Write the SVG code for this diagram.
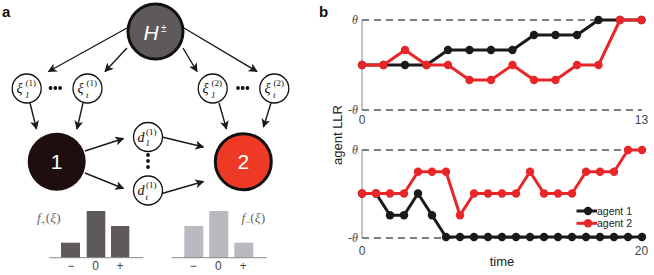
<svg xmlns="http://www.w3.org/2000/svg" width="654" height="275" viewBox="0 0 654 275">
<defs>
<marker id="ah" viewBox="0 0 10 10" refX="9" refY="5" markerWidth="9" markerHeight="9" markerUnits="userSpaceOnUse" orient="auto">
<path d="M0,0 L10,5 L0,10 L2.5,5 z" fill="#1a1a1a"/>
</marker>
</defs>
<style>
.lbl{font-family:"Liberation Sans",Arial,sans-serif;font-weight:bold;font-size:15px;fill:#111}
.edge{stroke:#1a1a1a;stroke-width:1.4;fill:none;marker-end:url(#ah)}
.small{fill:#fff;stroke:#111;stroke-width:1.3}
.sym{font-family:"Liberation Serif","Times New Roman",serif;font-style:italic;font-size:14px;fill:#111}
.sup{font-family:"Liberation Serif","Times New Roman",serif;font-size:9px;fill:#111}
.subi{font-family:"Liberation Serif","Times New Roman",serif;font-style:italic;font-size:9px;fill:#111}
.dot{fill:#111}
.big{font-family:"Liberation Sans",Arial,sans-serif;font-size:21px;fill:#fff;text-anchor:middle}
.tick{font-family:"Liberation Sans",Arial,sans-serif;font-size:12px;fill:#444;text-anchor:middle}
.ftxt{font-family:"Liberation Serif","Times New Roman",serif;font-style:italic;font-size:13.5px;fill:#666}
.dash{stroke:#7a7f85;stroke-width:2;stroke-dasharray:7 5;fill:none}
.axis{stroke:#888;stroke-width:1;fill:none}
.th{font-family:"Liberation Serif","Times New Roman",serif;font-style:italic;font-size:12px;fill:#444;text-anchor:end}
.blk{stroke:#1a1a1a;stroke-width:3;fill:none;stroke-linejoin:round}
.red{stroke:#e8262a;stroke-width:3;fill:none;stroke-linejoin:round}
.bd{fill:#1a1a1a}
.rd{fill:#e8262a}
.leg{font-family:"Liberation Sans",Arial,sans-serif;font-size:10.5px;fill:#222}
.axl{font-family:"Liberation Sans",Arial,sans-serif;font-size:13px;fill:#222;text-anchor:middle}
</style>

<text class="lbl" x="2" y="17">a</text>
<text class="lbl" x="319" y="17">b</text>

<g id="connectors">
<line class="edge" x1="127" y1="28" x2="48.5" y2="71.5"/>
<line class="edge" x1="127" y1="48" x2="105" y2="71.5"/>
<line class="edge" x1="183" y1="48" x2="197" y2="71.5"/>
<line class="edge" x1="184" y1="28" x2="257" y2="71.5"/>
<line class="edge" x1="30" y1="103" x2="36.5" y2="129"/>
<line class="edge" x1="83" y1="103" x2="77" y2="129"/>
<line class="edge" x1="219" y1="103" x2="226.5" y2="129"/>
<line class="edge" x1="271" y1="103" x2="263.5" y2="127"/>
<line class="edge" x1="85" y1="151" x2="123.5" y2="138.5"/>
<line class="edge" x1="85" y1="173" x2="123.5" y2="188.5"/>
<line class="edge" x1="162" y1="137" x2="203.5" y2="147"/>
<line class="edge" x1="162" y1="193.5" x2="203.5" y2="181.5"/>
</g>

<g id="node-H">
<circle cx="155.5" cy="31.5" r="27.5" fill="#5e5a5b" stroke="#111" stroke-width="3"/>
<text x="143.5" y="40" font-family="Liberation Sans,Arial,sans-serif" font-style="italic" font-size="21" fill="#fff">H</text>
<text x="161" y="32" font-family="Liberation Sans,Arial,sans-serif" font-size="10" fill="#fff">±</text>
</g>

<g id="node-xi11">
<circle class="small" cx="26.7" cy="88.5" r="14.5"/>
<text class="sym" x="16.5" y="93">ξ</text>
<text class="sup" x="25.5" y="86">(1)</text>
<text class="subi" x="25" y="97.5" font-style="normal">1</text>
</g>
<g id="node-xit1">
<circle class="small" cx="87.5" cy="88.5" r="14.5"/>
<text class="sym" x="77.5" y="93">ξ</text>
<text class="sup" x="86.5" y="86">(1)</text>
<text class="subi" x="86" y="97.5">t</text>
</g>
<g id="dots-1">
<circle class="dot" cx="50.5" cy="88" r="1.9"/>
<circle class="dot" cx="55.3" cy="88" r="1.9"/>
<circle class="dot" cx="60.1" cy="88" r="1.9"/>
</g>
<g id="node-xi12">
<circle class="small" cx="212.7" cy="88.5" r="14.5"/>
<text class="sym" x="202.5" y="93">ξ</text>
<text class="sup" x="211.5" y="86">(2)</text>
<text class="subi" x="211" y="97.5" font-style="normal">1</text>
</g>
<g id="node-xit2">
<circle class="small" cx="274.3" cy="88.5" r="14.5"/>
<text class="sym" x="264.5" y="93">ξ</text>
<text class="sup" x="273.5" y="86">(2)</text>
<text class="subi" x="273" y="97.5">t</text>
</g>
<g id="dots-2">
<circle class="dot" cx="238" cy="88" r="1.9"/>
<circle class="dot" cx="242.7" cy="88" r="1.9"/>
<circle class="dot" cx="247.4" cy="88" r="1.9"/>
</g>

<g id="node-1">
<circle cx="56.7" cy="161.7" r="29" fill="#1e0e0e"/>
<text class="big" x="56.7" y="169">1</text>
</g>
<g id="node-2">
<circle cx="243.3" cy="161.7" r="28" fill="#ee3a24" stroke="#111" stroke-width="3"/>
<text class="big" x="243.3" y="169">2</text>
</g>

<g id="node-d1">
<circle class="small" cx="148" cy="137" r="14.5"/>
<text class="sym" x="137.5" y="141.5">d</text>
<text class="sup" x="146" y="134.5">(1)</text>
<text class="subi" x="145.5" y="146" font-style="normal">1</text>
</g>
<g id="dots-d">
<circle class="dot" cx="148" cy="155" r="1.9"/>
<circle class="dot" cx="148" cy="161" r="1.9"/>
<circle class="dot" cx="148" cy="167" r="1.9"/>
</g>
<g id="node-dt">
<circle class="small" cx="148" cy="190.5" r="14.5"/>
<text class="sym" x="137.5" y="195">d</text>
<text class="sup" x="146" y="188">(1)</text>
<text class="subi" x="145.5" y="199.5">t</text>
</g>

<g id="hist-plus">
<rect x="61" y="242.7" width="19" height="15" fill="#5e5a5b"/>
<rect x="86.7" y="211" width="18.6" height="46.7" fill="#5e5a5b"/>
<rect x="111" y="226" width="18.3" height="31.7" fill="#5e5a5b"/>
<line x1="49.3" y1="257.7" x2="143.3" y2="257.7" stroke="#888" stroke-width="1"/>
<text class="ftxt" x="37" y="222">f<tspan font-size="9" font-style="normal" dy="2.5">+</tspan><tspan dy="-2.5" font-style="normal">(</tspan>ξ<tspan font-style="normal">)</tspan></text>
<text class="tick" x="71" y="270">−</text>
<text class="tick" x="95.7" y="270">0</text>
<text class="tick" x="120" y="270">+</text>
</g>
<g id="hist-minus">
<rect x="184.3" y="226" width="19" height="31.7" fill="#b9b9c0"/>
<rect x="209.3" y="211" width="19" height="46.7" fill="#b9b9c0"/>
<rect x="234.3" y="242.7" width="19" height="15" fill="#b9b9c0"/>
<line x1="171.7" y1="257.7" x2="266.7" y2="257.7" stroke="#888" stroke-width="1"/>
<text class="ftxt" x="241.5" y="222">f<tspan font-size="9" font-style="normal" dy="2.5">−</tspan><tspan dy="-2.5" font-style="normal">(</tspan>ξ<tspan font-style="normal">)</tspan></text>
<text class="tick" x="193.3" y="270">−</text>
<text class="tick" x="218.3" y="270">0</text>
<text class="tick" x="243.3" y="270">+</text>
</g>

<g id="plot-top">
<line class="axis" x1="362" y1="20" x2="362" y2="110"/>
<line class="dash" x1="362" y1="20" x2="642" y2="20"/>
<line class="dash" x1="362" y1="110" x2="642" y2="110"/>
<text class="th" x="358" y="24">θ</text>
<text class="th" x="358" y="114">-θ</text>
<text class="tick" x="362" y="124">0</text>
<text class="tick" x="641.5" y="124">13</text>
<polyline class="blk" points="362,65 383.5,65 405,65 426.5,65 448,50 469.5,50 491,50 512.5,50 534,35 555.5,35 577,35 598.5,20 620,20 641.5,20"/>
<g class="bd">
<circle cx="362" cy="65" r="4.2"/><circle cx="383.5" cy="65" r="4.2"/><circle cx="405" cy="65" r="4.2"/><circle cx="426.5" cy="65" r="4.2"/><circle cx="448" cy="50" r="4.2"/><circle cx="469.5" cy="50" r="4.2"/><circle cx="491" cy="50" r="4.2"/><circle cx="512.5" cy="50" r="4.2"/><circle cx="534" cy="35" r="4.2"/><circle cx="555.5" cy="35" r="4.2"/><circle cx="577" cy="35" r="4.2"/><circle cx="598.5" cy="20" r="4.2"/><circle cx="620" cy="20" r="4.2"/><circle cx="641.5" cy="20" r="4.2"/>
</g>
<polyline class="red" points="362,65 383.5,65 405,50 426.5,65 448,65 469.5,80 491,80 512.5,65 534,80 555.5,80 577,65 598.5,65 620,20 641.5,20"/>
<g class="rd">
<circle cx="362" cy="65" r="4.2"/><circle cx="383.5" cy="65" r="4.2"/><circle cx="405" cy="50" r="4.2"/><circle cx="426.5" cy="65" r="4.2"/><circle cx="448" cy="65" r="4.2"/><circle cx="469.5" cy="80" r="4.2"/><circle cx="491" cy="80" r="4.2"/><circle cx="512.5" cy="65" r="4.2"/><circle cx="534" cy="80" r="4.2"/><circle cx="555.5" cy="80" r="4.2"/><circle cx="577" cy="65" r="4.2"/><circle cx="598.5" cy="65" r="4.2"/><circle cx="620" cy="20" r="4.2"/><circle cx="641.5" cy="20" r="4.2"/>
</g>
</g>

<text class="axl" transform="translate(342,135) rotate(-90)">agent LLR</text>

<g id="plot-bottom">
<line class="axis" x1="362" y1="150" x2="362" y2="238"/>
<line class="dash" x1="362" y1="150" x2="642" y2="150"/>
<line class="dash" x1="362" y1="238" x2="642" y2="238"/>
<text class="th" x="358" y="154">θ</text>
<text class="th" x="358" y="242">-θ</text>
<text class="tick" x="362" y="255">0</text>
<text class="tick" x="641.5" y="255">20</text>
<text class="axl" x="502" y="266">time</text>
<polyline class="blk" points="362,193.5 376,193.5 390,215.3 404,215.3 418,193.5 432,215.3 446,237 460,237 474,237 488,237 502,237 516,237 530,237 544,237 558,237 572,237 586,237 600,237 614,237 628,237 642,237"/>
<g class="bd">
<circle cx="362" cy="193.5" r="4.2"/><circle cx="376" cy="193.5" r="4.2"/><circle cx="390" cy="215.3" r="4.2"/><circle cx="404" cy="215.3" r="4.2"/><circle cx="418" cy="193.5" r="4.2"/><circle cx="432" cy="215.3" r="4.2"/><circle cx="446" cy="237" r="4.2"/><circle cx="460" cy="237" r="4.2"/><circle cx="474" cy="237" r="4.2"/><circle cx="488" cy="237" r="4.2"/><circle cx="502" cy="237" r="4.2"/><circle cx="516" cy="237" r="4.2"/><circle cx="530" cy="237" r="4.2"/><circle cx="544" cy="237" r="4.2"/><circle cx="558" cy="237" r="4.2"/><circle cx="572" cy="237" r="4.2"/><circle cx="586" cy="237" r="4.2"/><circle cx="600" cy="237" r="4.2"/><circle cx="614" cy="237" r="4.2"/><circle cx="628" cy="237" r="4.2"/><circle cx="642" cy="237" r="4.2"/>
</g>
<polyline class="red" points="362,193.5 376,193.5 390,193.5 404,193.5 418,171.7 432,171.7 446,171.7 460,215.3 474,193.5 488,193.5 502,193.5 516,193.5 530,171.7 544,193.5 558,193.5 572,193.5 586,171.7 600,171.7 614,171.7 628,150 642,150"/>
<g class="rd">
<circle cx="362" cy="193.5" r="4.2"/><circle cx="376" cy="193.5" r="4.2"/><circle cx="390" cy="193.5" r="4.2"/><circle cx="404" cy="193.5" r="4.2"/><circle cx="418" cy="171.7" r="4.2"/><circle cx="432" cy="171.7" r="4.2"/><circle cx="446" cy="171.7" r="4.2"/><circle cx="460" cy="215.3" r="4.2"/><circle cx="474" cy="193.5" r="4.2"/><circle cx="488" cy="193.5" r="4.2"/><circle cx="502" cy="193.5" r="4.2"/><circle cx="516" cy="193.5" r="4.2"/><circle cx="530" cy="171.7" r="4.2"/><circle cx="544" cy="193.5" r="4.2"/><circle cx="558" cy="193.5" r="4.2"/><circle cx="572" cy="193.5" r="4.2"/><circle cx="586" cy="171.7" r="4.2"/><circle cx="600" cy="171.7" r="4.2"/><circle cx="614" cy="171.7" r="4.2"/><circle cx="628" cy="150" r="4.2"/><circle cx="642" cy="150" r="4.2"/>
</g>
</g>

<g id="legend">
<line x1="576.5" y1="211" x2="597" y2="211" stroke="#1a1a1a" stroke-width="3"/>
<circle class="bd" cx="588" cy="211" r="4.2"/>
<text class="leg" x="597" y="214.5">agent 1</text>
<line x1="576.5" y1="223.3" x2="597" y2="223.3" stroke="#e8262a" stroke-width="3"/>
<circle class="rd" cx="588" cy="223.3" r="4.2"/>
<text class="leg" x="597" y="227">agent 2</text>
</g>
</svg>
